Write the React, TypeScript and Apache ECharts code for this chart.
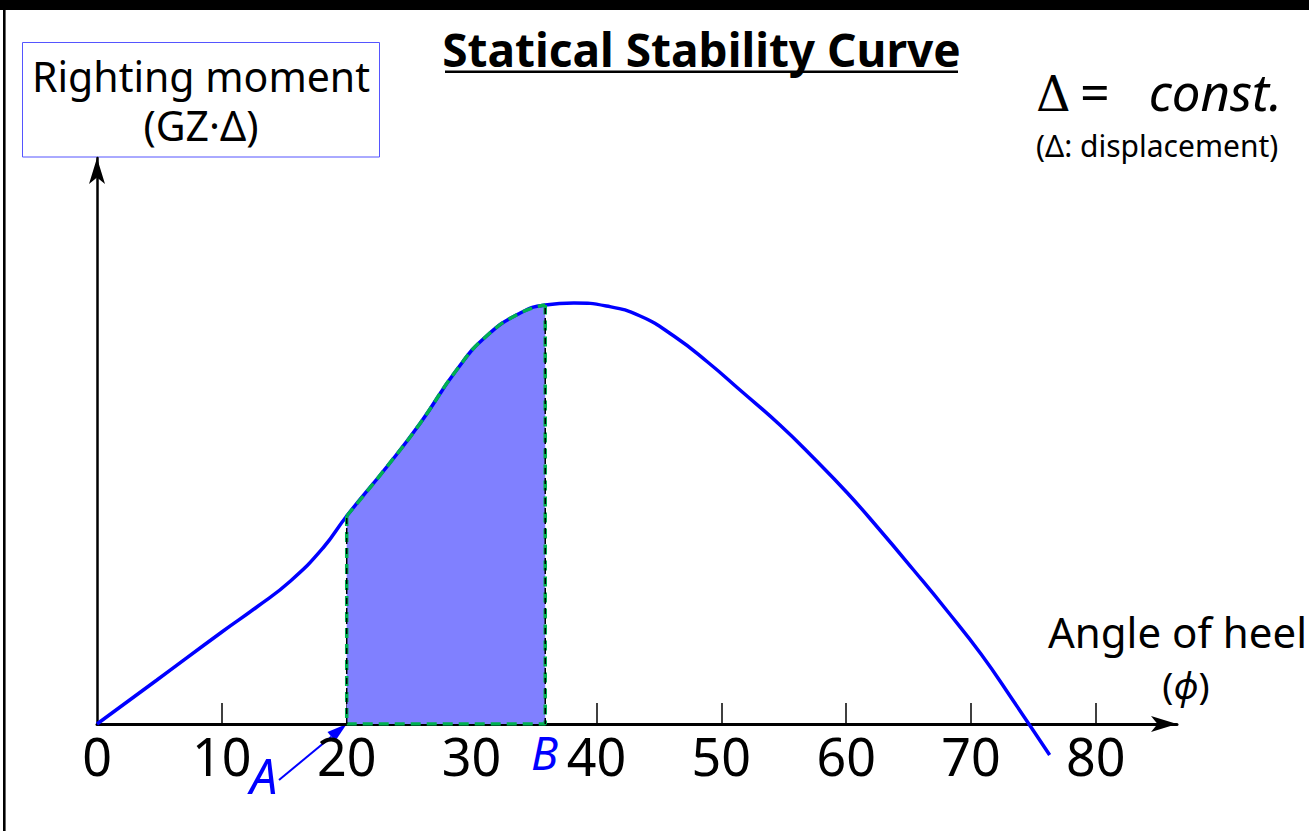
import React, { useEffect, useRef } from "react";
import * as echarts from "echarts";

// Heel angle (degrees) and righting moment GZ·Δ (arbitrary units)
const heelAngles = [0, 4.8, 10, 12.8, 15.5, 18.1, 20, 23.2, 25.9, 28.8, 31.2, 33.9, 35.9, 38.2, 40.8, 43.5, 46.2, 48.9, 51.5, 54.7, 57.4, 60.1, 62.7, 65.4, 68.1, 70.8, 73.4, 76.3];
const rightingMoments = [0, 4.4, 9.2, 11.7, 14.3, 17.6, 20.8, 25.7, 30.1, 35.4, 38.8, 41.1, 41.9, 42.1, 41.8, 40.8, 38.8, 36.2, 33.4, 29.9, 26.6, 23.1, 19.4, 15.4, 11.3, 7.0, 2.3, -3.1];
const xTickValues = [10, 20, 30, 40, 50, 60, 70, 80];
const xLabelValues = [0, 10, 20, 30, 40, 50, 60, 70, 80];
const angleA = 20;
const angleB = 35.9;

const FONT = "'Noto Sans', 'Open Sans', sans-serif";

export default function App() {
  const ref = useRef<HTMLDivElement>(null);

  useEffect(() => {
    if (!ref.current) return;
    const chart = echarts.init(ref.current, null, { renderer: "svg" });

    const curve = heelAngles.map((a, i) => [a, rightingMoments[i]]);
    const area = curve.filter((p) => p[0] >= angleA && p[0] <= angleB);
    const yA = area[0][1];
    const yB = area[area.length - 1][1];
    const smooth = 0.5;

    chart.setOption({
      animation: false,
      backgroundColor: "#ffffff",
      grid: { left: 97, right: 132, top: 158, bottom: 107 },
      xAxis: {
        type: "value",
        min: 0,
        max: 86.5,
        interval: 10,
        axisLine: {
          onZero: false,
          symbol: ["none", "arrow"],
          symbolSize: [12, 26],
          lineStyle: { color: "#000", width: 3 },
        },
        axisTick: {
          show: true,
          inside: true,
          length: 21,
          customValues: xTickValues,
          lineStyle: { color: "#000", width: 1.5 },
        },
        axisLabel: {
          customValues: xLabelValues,
          fontSize: 52,
          color: "#000",
          fontFamily: FONT,
          margin: 5,
        },
        splitLine: { show: false },
      },
      yAxis: {
        type: "value",
        min: 0,
        max: 56.6,
        axisLine: {
          show: true,
          symbol: ["none", "arrow"],
          symbolSize: [12, 26],
          lineStyle: { color: "#000", width: 2.5 },
        },
        axisTick: { show: false },
        axisLabel: { show: false },
        splitLine: { show: false },
      },
      series: [
        {
          type: "line",
          data: area,
          smooth,
          showSymbol: false,
          lineStyle: { width: 0, opacity: 0 },
          areaStyle: { color: "#8080ff", opacity: 1 },
          z: 1,
          silent: true,
        },
        {
          type: "line",
          data: curve,
          smooth,
          showSymbol: false,
          clip: false,
          lineStyle: { color: "#0000ff", width: 3.5 },
          z: 3,
          silent: true,
        },
        {
          type: "line",
          data: area,
          smooth,
          showSymbol: false,
          lineStyle: { color: "#00b050", width: 3.5, type: [10, 6], cap: "butt" },
          z: 4,
          silent: true,
        },
        {
          type: "line",
          data: [
            [angleA, yA],
            [angleA, 0],
            [angleB, 0],
            [angleB, yB],
          ],
          showSymbol: false,
          lineStyle: { color: "#00b050", width: 3.5, type: [10, 6], cap: "butt" },
          z: 4,
          silent: true,
        },
        {
          type: "line",
          data: [
            [angleA, 0],
            [angleA, yA],
          ],
          showSymbol: false,
          lineStyle: { color: "#000", width: 1.5, type: [6, 4] },
          z: 5,
          silent: true,
        },
        {
          type: "line",
          data: [
            [angleB, 0],
            [angleB, yB],
          ],
          showSymbol: false,
          lineStyle: { color: "#000", width: 1.5, type: [6, 4] },
          z: 5,
          silent: true,
        },
      ],
    });

    // Arrow pointing to A on the axis
    const tip = chart.convertToPixel({ gridIndex: 0 }, [angleA, 0]) as number[];
    const start = [279, 780];
    const dx = tip[0] - start[0];
    const dy = tip[1] - start[1];
    const len = Math.sqrt(dx * dx + dy * dy);
    const ux = dx / len;
    const uy = dy / len;
    const headLen = 20;
    const headHalf = 6;
    const bx = tip[0] - ux * headLen;
    const by = tip[1] - uy * headLen;
    const px = -uy;
    const py = ux;

    chart.setOption({
      graphic: [
        { type: "rect", shape: { x: 0, y: 0, width: 1309, height: 10 }, style: { fill: "#000" }, silent: true },
        { type: "rect", shape: { x: 3, y: 0, width: 2.6, height: 831 }, style: { fill: "#000" }, silent: true },
        {
          type: "rect",
          shape: { x: 22.5, y: 42.5, width: 357, height: 114.5 },
          style: { fill: "none", stroke: "#5555ff", lineWidth: 1 },
          silent: true,
        },
        {
          type: "text",
          x: 201,
          y: 100,
          style: {
            text: "Righting moment\n(GZ·Δ)",
            fontSize: 41,
            lineHeight: 49,
            fontFamily: FONT,
            fill: "#000",
            textAlign: "center",
            textVerticalAlign: "middle",
          },
          silent: true,
        },
        {
          type: "text",
          x: 701.5,
          y: 49,
          style: { text: "Statical Stability Curve", fontSize: 46, fontWeight: "bold", fontFamily: FONT, fill: "#000", textAlign: "center", textVerticalAlign: "middle" },
          silent: true,
        },
        { type: "rect", shape: { x: 445, y: 70.5, width: 513, height: 2.6 }, style: { fill: "#000" }, silent: true },
        {
          type: "text",
          x: 1036,
          y: 94,
          style: { text: "Δ", fontSize: 48, fontFamily: "'DejaVu Serif', 'Liberation Serif', serif", fill: "#000", textAlign: "left", textVerticalAlign: "middle" },
          silent: true,
        },
        {
          type: "text",
          x: 1080,
          y: 91.4,
          style: { text: "=", fontSize: 52, fontFamily: FONT, fill: "#000", textAlign: "left", textVerticalAlign: "middle" },
          silent: true,
        },
        {
          type: "text",
          x: 1282,
          y: 91.4,
          style: { text: "const.", fontSize: 51, fontStyle: "italic", fontFamily: FONT, fill: "#000", textAlign: "right", textVerticalAlign: "middle" },
          silent: true,
        },
        {
          type: "text",
          x: 1036,
          y: 145.4,
          style: { text: "(Δ: displacement)", fontSize: 30, fontFamily: FONT, fill: "#000", textAlign: "left", textVerticalAlign: "middle" },
          silent: true,
        },
        {
          type: "text",
          x: 1048,
          y: 631.7,
          style: { text: "Angle of heel", fontSize: 42, fontFamily: FONT, fill: "#000", textAlign: "left", textVerticalAlign: "middle" },
          silent: true,
        },
        {
          type: "text",
          x: 1186,
          y: 684,
          style: {
            text: "({i|ϕ})",
            fontSize: 37,
            fontFamily: FONT,
            fill: "#000",
            textAlign: "center",
            textVerticalAlign: "middle",
            rich: { i: { fontSize: 37, fontFamily: FONT, fontStyle: "italic", fill: "#000" } },
          },
          silent: true,
        },
        {
          type: "text",
          x: 250,
          y: 775,
          style: { text: "A", fontSize: 49, fontStyle: "italic", fontFamily: FONT, fill: "#0000ff", textAlign: "left", textVerticalAlign: "middle" },
          silent: true,
        },
        {
          type: "text",
          x: 531,
          y: 752.5,
          style: { text: "B", fontSize: 45, fontStyle: "italic", fontFamily: FONT, fill: "#0000ff", textAlign: "left", textVerticalAlign: "middle" },
          silent: true,
        },
        {
          type: "line",
          shape: { x1: start[0], y1: start[1], x2: bx, y2: by },
          style: { stroke: "#0000ff", lineWidth: 2 },
          silent: true,
        },
        {
          type: "polygon",
          shape: {
            points: [
              [tip[0], tip[1]],
              [bx + px * headHalf, by + py * headHalf],
              [bx - px * headHalf, by - py * headHalf],
            ],
          },
          style: { fill: "#0000ff" },
          silent: true,
        },
      ],
    });

    return () => {
      chart.dispose();
    };
  }, []);

  return (
    <div
      ref={ref}
      style={{ position: "fixed", left: 0, top: 0, width: 1309, height: 831, background: "#fff" }}
    />
  );
}
